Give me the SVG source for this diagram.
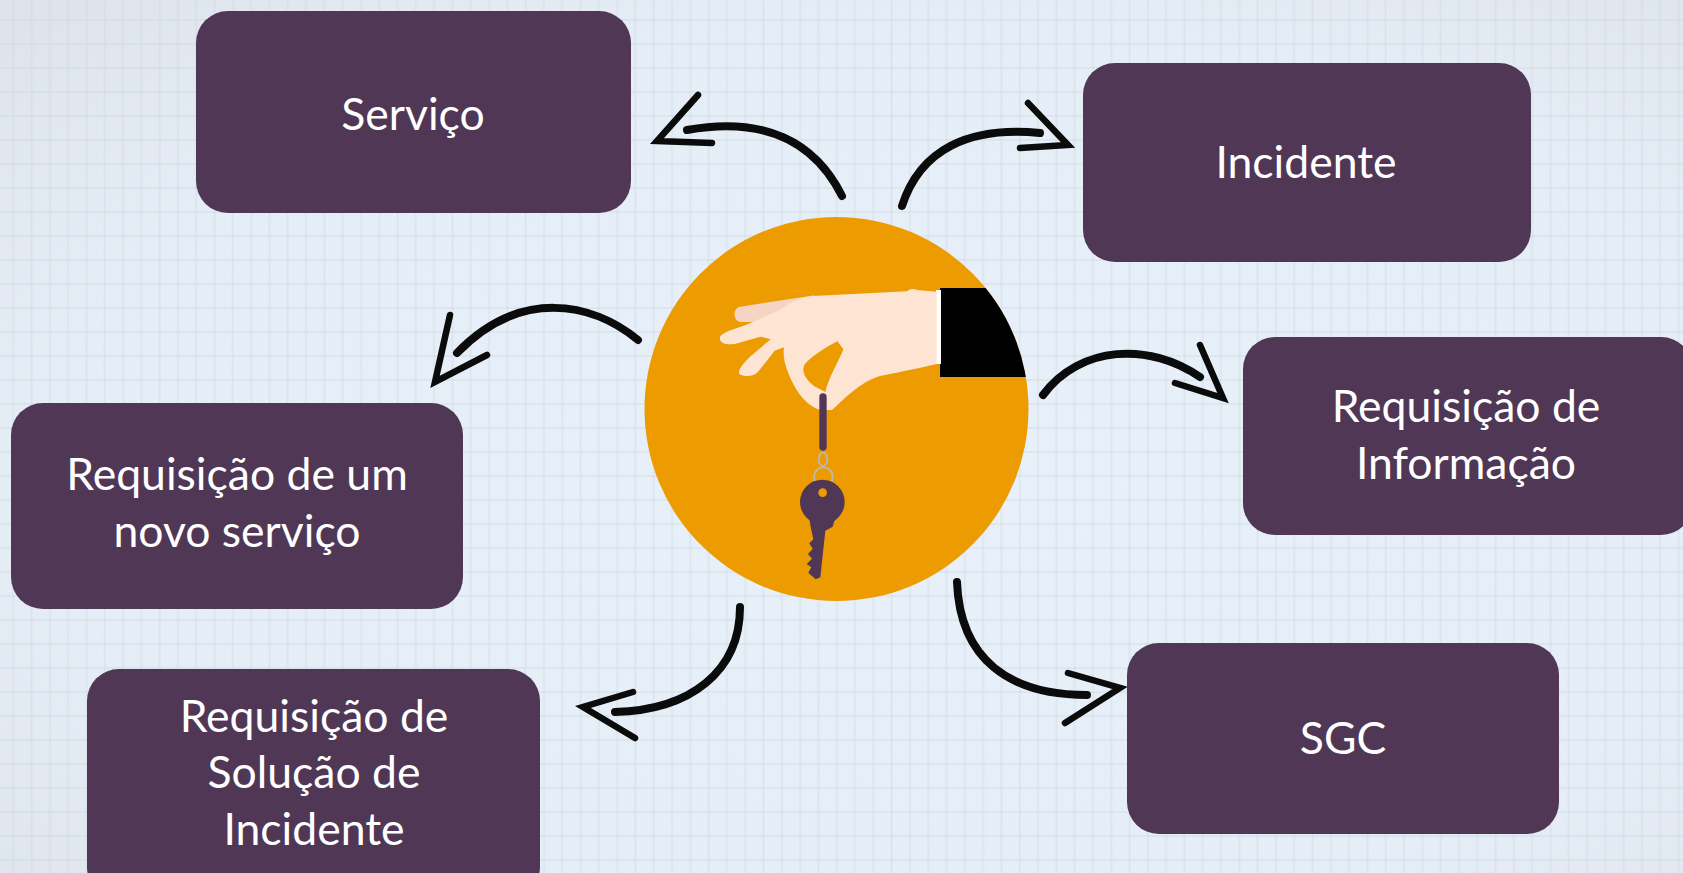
<svg xmlns="http://www.w3.org/2000/svg" width="1683" height="873" viewBox="0 0 1683 873">
  <defs>
    <radialGradient id="bgGrad" cx="55%" cy="55%" r="75%">
      <stop offset="0" stop-color="#e8f0f9"/>
      <stop offset="0.7" stop-color="#e5edf6"/>
      <stop offset="1" stop-color="#dfe4eb"/>
    </radialGradient>
    <pattern id="grid" patternUnits="userSpaceOnUse" x="4" y="8" width="18.3" height="24">
      <line x1="9.3" y1="0" x2="9.3" y2="24" stroke="#c9d2dd" stroke-width="2" stroke-opacity="0.3"/>
      <line x1="0" y1="12" x2="18.3" y2="12" stroke="#c9d2dd" stroke-width="2" stroke-opacity="0.3"/>
    </pattern>
    <clipPath id="circleClip">
      <circle cx="836.5" cy="409" r="192"/>
    </clipPath>
  </defs>
  <style>
    .box { fill: #503756; }
    .label { font-family: Lato, "Open Sans", "Liberation Sans", sans-serif; font-size: 44.5px; fill: #ffffff; text-anchor: middle; }
    .arrow { fill: none; stroke: #0b0b0b; stroke-width: 8; stroke-linecap: round; stroke-linejoin: round; }
    .head { fill: none; stroke: #0b0b0b; stroke-width: 6.5; stroke-linecap: round; stroke-linejoin: miter; }
  </style>

  <!-- backdrop: pale blue sheet with faint grid -->
  <rect x="0" y="0" width="1683" height="873" fill="url(#bgGrad)"/>
  <rect x="0" y="0" width="1683" height="873" fill="url(#grid)"/>

  <!-- centre emblem: hand holding a key -->
  <g id="centre">
    <circle cx="836.5" cy="409" r="192" fill="#ec9b00"/>
    <g clip-path="url(#circleClip)">
      <rect x="940" y="288" width="120" height="89" fill="#000000"/>
    </g>
    <rect x="936" y="290" width="5" height="74" fill="#ffffff"/>
    <g transform="translate(640,210) scale(0.33333)">
      <!-- rear finger -->
      <path d="M 525,256 L 470,264 L 300,290 C 278,295 278,330 300,336 L 440,336 Z" fill="#f4d5c3"/>
      <!-- palm, fingers and thumb -->
      <path d="M 890,245 L 830,240 Q 815,233 800,244 L 520,258 C 470,262 440,285 420,300 L 330,340 C 290,356 250,365 240,380 C 236,398 256,406 284,402 L 362,380 L 392,388 L 330,440 C 310,460 292,480 298,492 C 312,502 342,500 354,486 L 404,422 L 432,412 C 426,452 446,500 470,540 C 490,572 515,592 540,600 L 576,600 C 610,570 660,515 720,498 C 780,486 850,472 890,462 Z" fill="#fee4d3"/>
      <!-- gap between index finger and thumb -->
      <path d="M 592,394 C 560,410 512,440 492,466 C 484,492 502,512 522,528 L 556,546 C 566,500 598,452 610,418 Z" fill="#ec9b00"/>
      <!-- strap -->
      <rect x="538" y="550" width="22" height="172" rx="11" fill="#503756"/>
      <!-- rings -->
      <ellipse cx="549" cy="748" rx="13" ry="20" fill="none" stroke="#bdb6ae" stroke-width="6"/>
      <circle cx="550" cy="800" r="28" fill="none" stroke="#bdb6ae" stroke-width="6"/>
      <!-- key -->
      <circle cx="547" cy="876" r="67" fill="#503756"/>
      <circle cx="548" cy="848" r="13" fill="#ec9b00"/>
      <path d="M 508,925 L 585,925 L 578,950 L 556,962 L 541,1102 L 527,1108 L 505,1088 L 514,1072 L 500,1062 L 516,1046 L 504,1032 L 518,1016 L 508,1000 L 520,988 L 512,950 Z" fill="#503756"/>
    </g>
  </g>

  <!-- connectors: hand-drawn arrows radiating from the emblem -->
  <g id="connectors">
    <path class="arrow" d="M 842,196 C 815,142 765,116 687,130"/>
    <path class="head" d="M 698,95 L 657,141 L 712,143"/>

    <path class="arrow" d="M 902,206 C 920,150 968,126 1040,133"/>
    <path class="head" d="M 1028,103 L 1068,145 L 1020,148"/>

    <path class="arrow" d="M 638,340 C 592,302 520,288 457,353"/>
    <path class="head" d="M 450,315 L 435,382 L 487,355"/>

    <path class="arrow" d="M 1043,395 C 1080,345 1150,342 1200,377"/>
    <path class="head" d="M 1200,345 L 1223,398 L 1175,383"/>

    <path class="arrow" d="M 740,607 C 740,672 690,710 615,712"/>
    <path class="head" d="M 633,692 L 583,707 L 635,738"/>

    <path class="arrow" d="M 957,582 C 960,660 1010,695 1087,695"/>
    <path class="head" d="M 1068,673 L 1120,688 L 1065,723"/>
  </g>

  <!-- nodes -->
  <g id="servico">
    <rect class="box" x="196" y="11" width="435" height="202" rx="32"/>
    <text class="label" x="413" y="130">Serviço</text>
  </g>

  <g id="incidente">
    <rect class="box" x="1083" y="63" width="448" height="199" rx="32"/>
    <text class="label" x="1306" y="178">Incidente</text>
  </g>

  <g id="requisicao-informacao">
    <rect class="box" x="1243" y="337" width="450" height="198" rx="32"/>
    <text class="label" x="1466" y="422">Requisição de</text>
    <text class="label" x="1466" y="479">Informação</text>
  </g>

  <g id="requisicao-novo-servico">
    <rect class="box" x="11" y="403" width="452" height="206" rx="32"/>
    <text class="label" x="237" y="490">Requisição de um</text>
    <text class="label" x="237" y="547">novo serviço</text>
  </g>

  <g id="requisicao-solucao-incidente">
    <rect class="box" x="87" y="669" width="453" height="230" rx="32"/>
    <text class="label" x="314" y="732">Requisição de</text>
    <text class="label" x="314" y="788">Solução de</text>
    <text class="label" x="314" y="845">Incidente</text>
  </g>

  <g id="sgc">
    <rect class="box" x="1127" y="643" width="432" height="191" rx="32"/>
    <text class="label" x="1343" y="754">SGC</text>
  </g>
</svg>
